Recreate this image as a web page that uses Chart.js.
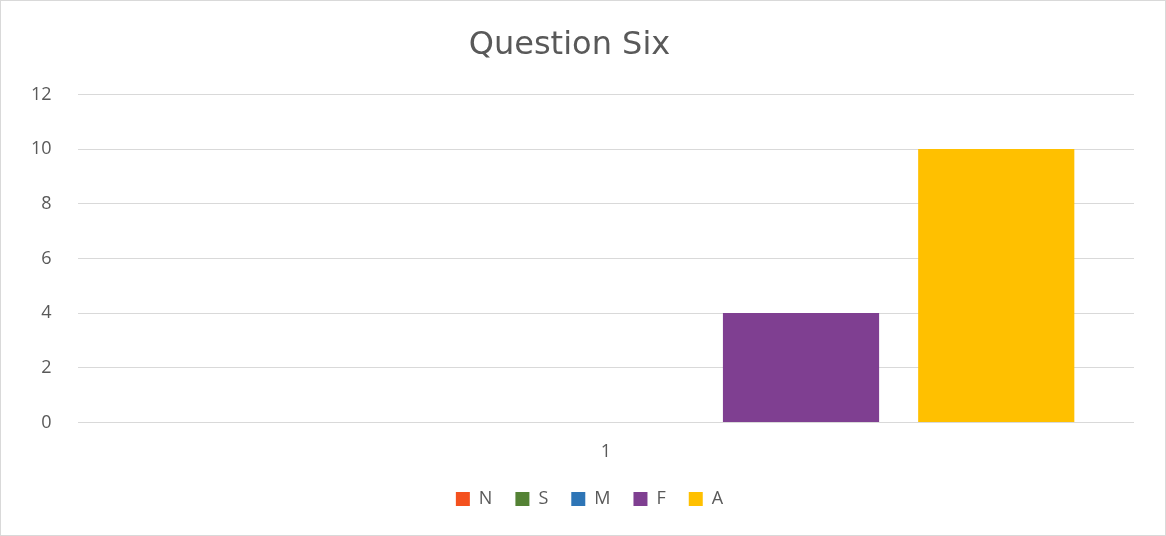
<!DOCTYPE html>
<html>
<head>
<meta charset="utf-8">
<script src="https://cdn.jsdelivr.net/npm/chart.js@4"></script>
<style>
    body { margin: 0; background: #fff; }
    #wrap { position: relative; width: 1164px; height: 534px; border: 1px solid #d9d9d9; }
</style>
</head>
<body>
<div id="wrap"><canvas id="questionChart"></canvas></div>
<script>
const categories = ['1'];
const seriesNames = ['N', 'S', 'M', 'F', 'A'];
const seriesValues = [[0], [0], [0], [4], [10]];
const seriesColors = ['#f4511e', '#548235', '#2e75b6', '#7f3f91', '#ffc000'];

document.addEventListener('DOMContentLoaded', () => {
    const ctx = document.getElementById('questionChart').getContext('2d');
    Chart.defaults.font.family = "'Open Sans', 'Liberation Sans', sans-serif";
    Chart.defaults.color = '#595959';

    const datasets = seriesNames.map((name, i) => ({
        label: name,
        data: seriesValues[i],
        backgroundColor: seriesColors[i],
        borderWidth: 0,
        categoryPercentage: 0.924,
        barPercentage: 0.8
    }));

    // nudge the legend a little to the right, like the original
    const legendShift = {
        id: 'legendShift',
        afterLayout(chart) {
            chart.legend.left += 20;
            chart.legend.right += 20;
        }
    };

    new Chart(ctx, {
        type: 'bar',
        data: { labels: categories, datasets: datasets },
        options: {
            responsive: true,
            maintainAspectRatio: false,
            animation: false,
            layout: { padding: { left: 4, right: 31, top: 17, bottom: 17 } },
            plugins: {
                title: {
                    display: true,
                    text: 'Question Six',
                    font: { family: "'DejaVu Sans', sans-serif", size: 32, weight: 'normal' },
                    color: '#595959',
                    padding: { top: 8, bottom: 30 }
                },
                legend: {
                    position: 'bottom',
                    labels: {
                        boxWidth: 14,
                        boxHeight: 14,
                        padding: 23,
                        font: { size: 18 },
                        color: '#595959'
                    }
                },
                tooltip: { enabled: false }
            },
            scales: {
                x: {
                    grid: { display: false },
                    border: { display: false },
                    ticks: { font: { size: 18 }, color: '#595959', padding: 11 },
                    afterFit(scale) { scale.height -= 7; }
                },
                y: {
                    min: 0,
                    max: 12,
                    ticks: { stepSize: 2, font: { size: 18 }, color: '#595959', padding: 26 },
                    grid: { color: '#d9d9d9', drawTicks: false },
                    border: { display: false }
                }
            }
        },
        plugins: [legendShift]
    });
});
</script>
</body>
</html>
